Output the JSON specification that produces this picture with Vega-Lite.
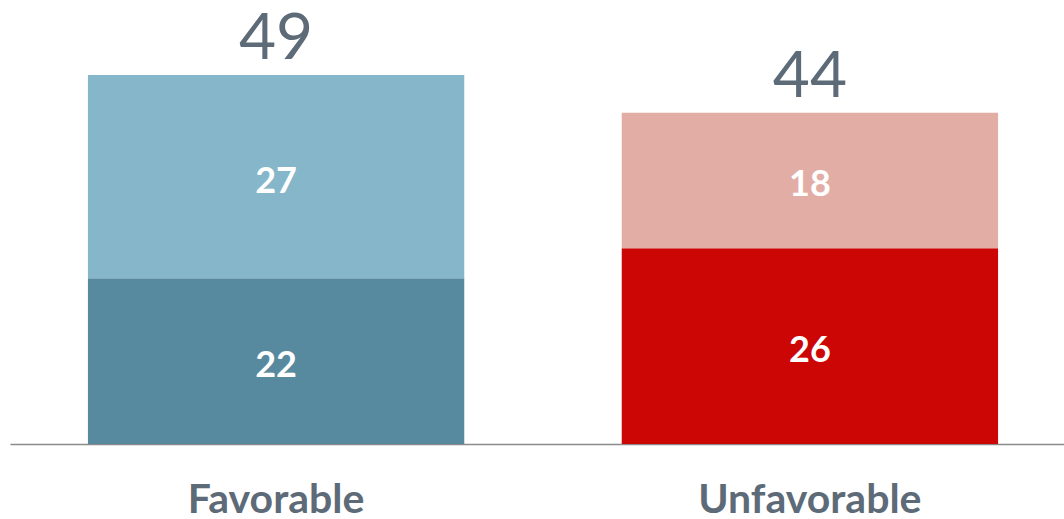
{
  "$schema": "https://vega.github.io/schema/vega-lite/v6.json",
  "width": 1066,
  "height": 444,
  "autosize": {"type": "none"},
  "padding": {"left": 10, "top": 0, "right": 0, "bottom": 75},
  "background": "white",
  "config": {"view": {"stroke": null}},
  "data": {
    "values": [
      {"category": "Favorable", "series": "Favorable-strong", "rank": 0, "value": 22},
      {"category": "Favorable", "series": "Favorable-mild", "rank": 1, "value": 27},
      {"category": "Unfavorable", "series": "Unfavorable-strong", "rank": 0, "value": 26},
      {"category": "Unfavorable", "series": "Unfavorable-mild", "rank": 1, "value": 18}
    ]
  },
  "encoding": {
    "x": {
      "field": "category",
      "type": "nominal",
      "sort": ["Favorable", "Unfavorable"],
      "scale": {"paddingInner": 0.295, "paddingOuter": 0.146},
      "axis": {
        "title": null,
        "ticks": false,
        "labelAngle": 0,
        "labelLimit": 0,
        "domainColor": "#8a8a8a",
        "domainWidth": 1.5,
        "labelFont": "Lato",
        "labelFontWeight": "bold",
        "labelFontSize": 41,
        "labelColor": "#5d6a77",
        "labelBaseline": "alphabetic",
        "labelPadding": 68
      }
    }
  },
  "layer": [
    {
      "transform": [
        {"stack": "value", "groupby": ["category"], "sort": [{"field": "rank", "order": "ascending"}], "as": ["y0", "y1"]}
      ],
      "mark": {"type": "bar"},
      "encoding": {
        "y": {"field": "y0", "type": "quantitative", "scale": {"domain": [0, 58.96], "nice": false}, "axis": null},
        "y2": {"field": "y1"},
        "color": {
          "field": "series",
          "type": "nominal",
          "scale": {
            "domain": ["Favorable-strong", "Favorable-mild", "Unfavorable-strong", "Unfavorable-mild"],
            "range": ["#588a9f", "#86b6c9", "#cc0605", "#e2ada5"]
          },
          "legend": null
        }
      }
    },
    {
      "transform": [
        {"stack": "value", "groupby": ["category"], "sort": [{"field": "rank", "order": "ascending"}], "as": ["y0", "y1"]},
        {"calculate": "(datum.y0 + datum.y1) / 2", "as": "ymid"}
      ],
      "mark": {"type": "text", "font": "Lato", "fontWeight": "bold", "fontSize": 36, "color": "white", "baseline": "middle", "dy": 5},
      "encoding": {
        "y": {"field": "ymid", "type": "quantitative"},
        "text": {"field": "value", "type": "quantitative"}
      }
    },
    {
      "transform": [
        {"aggregate": [{"op": "sum", "field": "value", "as": "total"}], "groupby": ["category"]}
      ],
      "mark": {"type": "text", "font": "Lato", "fontSize": 64, "color": "#5d6a77", "baseline": "alphabetic", "dy": -16},
      "encoding": {
        "y": {"field": "total", "type": "quantitative"},
        "text": {"field": "total", "type": "quantitative"}
      }
    }
  ]
}
